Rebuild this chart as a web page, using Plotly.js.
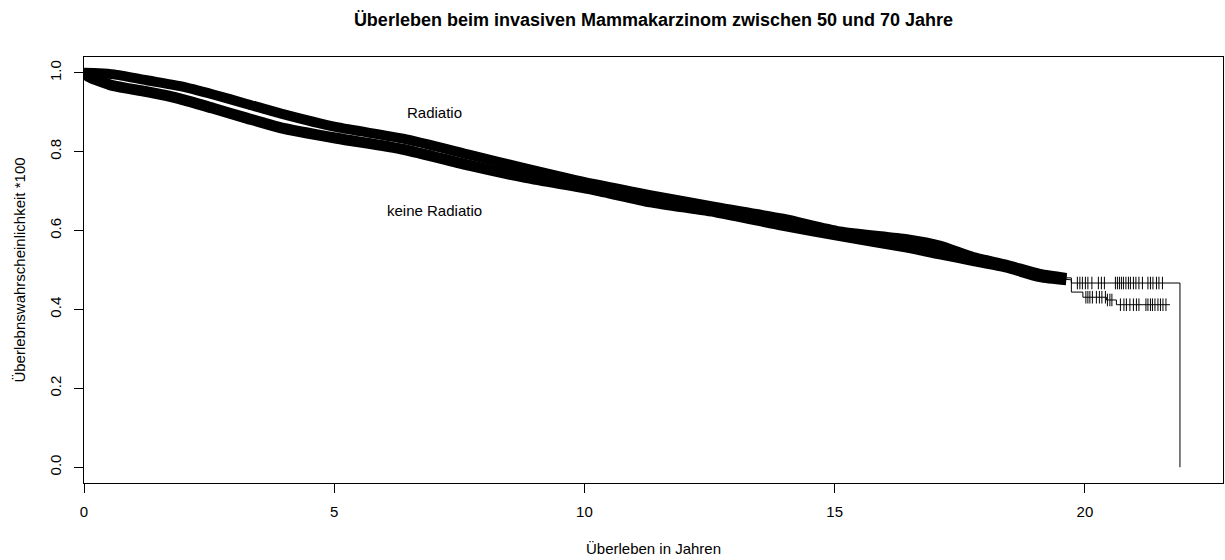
<!DOCTYPE html>
<html>
<head>
<meta charset="utf-8">
<script src="https://cdn.plot.ly/plotly-3.0.1.min.js"></script>
<style>html,body{margin:0;padding:0;background:#fff;}#chart{width:1225px;height:560px;}</style>
</head>
<body>
<div id="chart"></div>
<script>
// ---- Data ----
// Kaplan-Meier estimate, group "Radiatio" (upper curve)
const radTime = [0, 0.3, 0.6, 1.25, 1.92, 2.58, 3.25, 3.92, 5.05, 6.38, 7.71, 8.84, 10.18, 11.31, 12.64, 13.97, 15.10, 16.44, 17.10, 17.77, 18.44, 19.10, 19.63, 19.73, 19.73, 21.90, 21.90];
const radSurv = [1.0, 0.999, 0.996, 0.981, 0.966, 0.945, 0.921, 0.897, 0.862, 0.833, 0.792, 0.757, 0.718, 0.690, 0.659, 0.630, 0.598, 0.578, 0.562, 0.533, 0.513, 0.490, 0.480, 0.480, 0.467, 0.467, 0.0];
// group "keine Radiatio" (lower curve)
const noRadTime = [0, 0.1, 0.25, 0.59, 1.25, 1.92, 2.58, 3.25, 3.92, 5.05, 6.38, 7.71, 8.84, 10.18, 11.31, 12.64, 13.97, 15.10, 16.44, 17.10, 17.77, 18.44, 19.10, 19.63, 19.73, 19.73, 19.96, 19.96, 20.43, 20.43, 20.63, 20.63, 21.70];
const noRadSurv = [1.0, 0.990, 0.982, 0.967, 0.952, 0.934, 0.910, 0.885, 0.861, 0.834, 0.806, 0.765, 0.734, 0.704, 0.673, 0.647, 0.613, 0.587, 0.558, 0.541, 0.524, 0.507, 0.483, 0.475, 0.475, 0.444, 0.444, 0.431, 0.431, 0.424, 0.424, 0.412, 0.412];
// censoring times visible in the sparse tail
const radCensor = [19.85, 19.90, 19.95, 20.01, 20.06, 20.14, 20.27, 20.33, 20.39, 20.61, 20.65, 20.69, 20.73, 20.77, 20.82, 20.87, 20.91, 20.97, 21.02, 21.08, 21.15, 21.26, 21.31, 21.36, 21.43, 21.48, 21.55];
const noRadCensor = [20.02, 20.06, 20.10, 20.15, 20.23, 20.29, 20.34, 20.41, 20.45, 20.50, 20.54, 20.71, 20.78, 20.83, 20.90, 20.97, 21.03, 21.08, 21.22, 21.26, 21.31, 21.35, 21.40, 21.46, 21.51, 21.56, 21.62];
// dense censoring region ends where the tail begins
const denseEnd = 19.7;
// labels
const groupLabels = ["Radiatio", "keine Radiatio"];
const labelX = [7, 7];
const labelY = [0.9, 0.65];
const xTicks = [0, 5, 10, 15, 20];
const yTicks = [0.0, 0.2, 0.4, 0.6, 0.8, 1.0];

// ---- helpers ----
function stepAt(times, surv, t) {
  let v = surv[0];
  for (let i = 0; i < times.length; i++) { if (times[i] <= t) v = surv[i]; else break; }
  return v;
}
function denseSlice(times, surv) {
  const x = [], y = [];
  for (let i = 0; i < times.length; i++) { if (times[i] <= denseEnd) { x.push(times[i]); y.push(surv[i]); } }
  return {x, y};
}
const FONT = "Liberation Sans, Arial, Helvetica, sans-serif";

const radDense = denseSlice(radTime, radSurv);
const noRadDense = denseSlice(noRadTime, noRadSurv);

const censorMarker = {symbol: "line-ns-open", size: 9, color: "#000", line: {color: "#000", width: 1}};
const traces = [
  {x: radDense.x, y: radDense.y, mode: "lines", line: {color: "#000", width: 10, shape: "spline", smoothing: 0.6}, hoverinfo: "skip"},
  {x: noRadDense.x, y: noRadDense.y, mode: "lines", line: {color: "#000", width: 11, shape: "spline", smoothing: 0.6}, hoverinfo: "skip"},
  {x: radTime, y: radSurv, mode: "lines", line: {color: "#000", width: 1}},
  {x: noRadTime, y: noRadSurv, mode: "lines", line: {color: "#000", width: 1}},
  {x: radCensor, y: radCensor.map(t => stepAt(radTime, radSurv, t)), mode: "markers", marker: censorMarker},
  {x: noRadCensor, y: noRadCensor.map(t => stepAt(noRadTime, noRadSurv, t)), mode: "markers", marker: censorMarker}
];

const layout = {
  width: 1225, height: 560,
  margin: {l: 84, r: 2, t: 57, b: 77},
  paper_bgcolor: "#fff", plot_bgcolor: "#fff",
  showlegend: false,
  font: {family: FONT, size: 15, color: "#000"},
  title: {text: "<b>Überleben beim invasiven Mammakarzinom zwischen 50 und 70 Jahre</b>",
          font: {family: FONT, size: 18, color: "#000"},
          x: 0.5, xanchor: "center", xref: "paper", y: 1 - 20/560, yanchor: "middle", yref: "container"},
  xaxis: {range: [0, 22.76], tickvals: xTicks, ticktext: xTicks.map(String),
          ticks: "outside", ticklen: 9, tickcolor: "#000", tickwidth: 1,
          showline: true, linecolor: "#000", linewidth: 1, mirror: true,
          showgrid: false, zeroline: false, ticklabelstandoff: 6,
          title: {text: "Überleben in Jahren", font: {family: FONT, size: 15}, standoff: 24}},
  yaxis: {range: [-0.04, 1.04], tickvals: yTicks, ticktext: yTicks.map(v => v.toFixed(1)),
          ticks: "outside", ticklen: 9, tickcolor: "#000", tickwidth: 1, tickangle: -90,
          showline: true, linecolor: "#000", linewidth: 1, mirror: true,
          showgrid: false, zeroline: false, ticklabelstandoff: 7,
          title: {text: "Überlebnswahrscheinlichkeit *100", font: {family: FONT, size: 15}, standoff: 17}},
  annotations: groupLabels.map((txt, i) => ({x: labelX[i], y: labelY[i], xref: "x", yref: "y",
    text: txt, showarrow: false, font: {family: FONT, size: 15, color: "#000"}, xanchor: "center", yanchor: "middle"}))
};

Plotly.newPlot("chart", traces, layout, {staticPlot: true, displayModeBar: false});
</script>
</body>
</html>
